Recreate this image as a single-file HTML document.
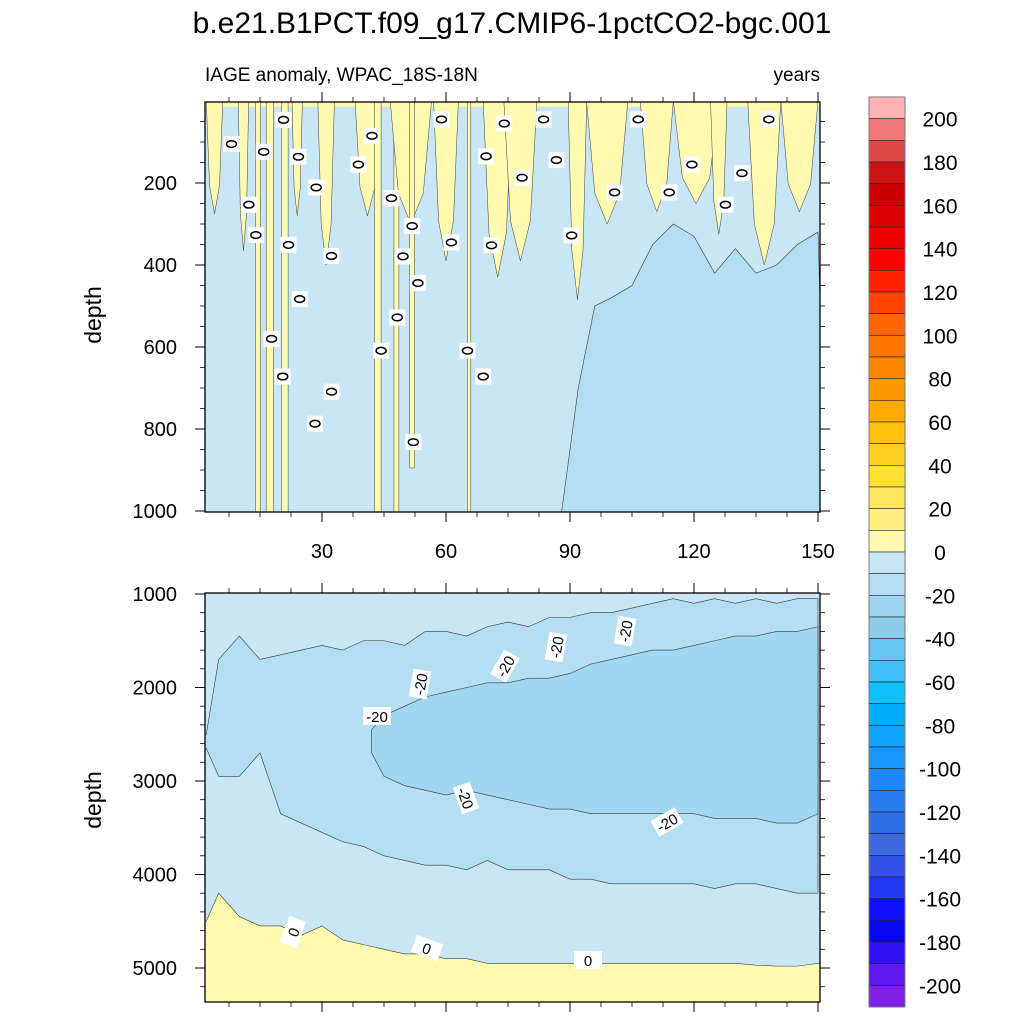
<!DOCTYPE html>
<html><head><meta charset="utf-8"><style>
html,body{margin:0;padding:0;background:#fff;}
svg{display:block;font-family:"Liberation Sans",sans-serif;}
</style></head><body>
<svg id="chart" width="1024" height="1024" viewBox="0 0 1024 1024" xmlns="http://www.w3.org/2000/svg">
<defs><clipPath id="ct"><rect x="205" y="102" width="615" height="410"/></clipPath><clipPath id="cbp"><rect x="205" y="593" width="615" height="409"/></clipPath></defs>
<text x="512" y="33" font-size="30" text-anchor="middle">b.e21.B1PCT.f09_g17.CMIP6-1pctCO2-bgc.001</text>
<text x="205" y="81" font-size="19">IAGE anomaly, WPAC_18S-18N</text>
<text x="820" y="81" font-size="19" text-anchor="end">years</text>
<text transform="translate(101,315) rotate(-90)" font-size="23" text-anchor="middle">depth</text>
<text transform="translate(101,800) rotate(-90)" font-size="23" text-anchor="middle">depth</text>
<g id="topPanel"></g><g id="botPanel"></g><g id="cbarGroup"></g>
</svg>
<script>
// ---- data ----
const yrs = [2,5,10,15,20,25,30,35,40,45,50,55,60,65,70,75,80,85,90,95,100,105,110,115,120,125,130,135,140,145,150];
const upper10 = [2500,1700,1450,1700,1650,1600,1550,1600,1500,1500,1550,1400,1400,1450,1350,1300,1350,1250,1250,1200,1200,1150,1100,1050,1100,1050,1100,1050,1100,1050,1050];
const lower10 = [2650,2950,2950,2700,3350,3450,3550,3650,3700,3800,3850,3900,3900,3950,3850,3950,3950,3950,4050,4050,4100,4100,4100,4100,4100,4150,4100,4100,4150,4200,4200];
const zeroLine = [4500,4200,4450,4550,4550,4650,4550,4700,4750,4800,4850,4850,4900,4900,4950,4950,4950,4950,4950,4950,4950,4950,4950,4950,4950,4950,4950,4970,4980,4980,4950];
const yrs20 = [42,45,50,55,60,65,70,75,80,85,90,95,100,105,110,115,120,125,130,135,140,145,150];
const top20 = [2450,2300,2200,2100,2050,2000,1950,1950,1900,1900,1850,1750,1700,1650,1600,1600,1550,1500,1450,1450,1400,1400,1350];
const bot20 = [2700,2950,3050,3100,3150,3100,3150,3200,3250,3300,3300,3350,3350,3350,3350,3350,3350,3400,3400,3400,3450,3450,3350];
const yrsDeep = [88,92,96,100,105,110,115,120,125,130,135,140,145,150];
const deepTop = [1000,700,500,480,450,350,300,330,420,360,420,400,350,320];
const streakYear = [4,11,14.5,17.4,21,24,31,41,43.5,48,51.5,51.8,60,65.6,72.5,78,91.8,99,111,120.5,126,137,145.5];
const streakWidth = [4,2.5,1.2,1.8,1.6,2.5,4,6,1.6,1.2,10,1.2,6,0.8,7,8,4.5,10,8,11,4,8,9];
const streakDepth = [275,365,1000,1000,1000,280,400,280,1000,1000,300,875,390,1000,430,390,485,300,270,250,325,400,270];
const streakFull = [0,0,1,1,1,0,0,0,1,1,0,1,0,1,0,0,0,0,0,0,0,0,0];
const zeroLabYear = [8.1,20.7,15.9,24.3,28.6,12.3,14,21.9,32.3,24.6,17.8,20.5,28.3,32.3,42.1,38.8,46.8,51.8,49.6,53.2,48.2,44.3,52.1,58.9,61.3,69.7,74.1,71,65.2,69,78.4,83.6,86.7,90.4,100.8,106.5,114,119.5,127.6,131.6,138.1];
const zeroLabDepth = [105,46,124,136,211,253,327,351,378,483,580,672,787,709,85,155,237,305,379,444,528,609,832,45,345,135,55,352,609,672,187,45,144,328,223,45,223,155,253,176,45];
const xTicks = [30,60,90,120,150];
const yTicksTop = [200,400,600,800,1000];
const yTicksBot = [1000,2000,3000,4000,5000];
const cbColors = ['#ffb3b3','#f07878','#e04848','#cc1414','#cc0000','#dd0000','#ee0000','#ff0000','#ff2200','#ff4400','#ff6600','#ff7700','#ff8800','#ff9900','#ffaa00','#ffc010','#ffd020','#ffe030','#ffe860','#fff080','#fffab0','#c8e6f5','#b4def2','#a0d6ef','#8ccbea','#66c6f2','#40c0f8','#10c0ff','#00b0ff','#10a4ff','#1896ff','#2088ff','#2a7af0','#3070e6','#4068e0','#3050e8','#2038f0','#1010ff','#0808f0','#3010f0','#6018f0','#8020e8'];
const cbLabels = [200,180,160,140,120,100,80,60,40,20,0,-20,-40,-60,-80,-100,-120,-140,-160,-180,-200];

// ---- scales ----
const X0=205,X1=820, T0=102,T1=512, B0=593,B1=1002;
const xS = y => 198 + y*4.1333;
const yT = d => 101 + d*0.41;
const yB = d => 594 + (d-1000)*0.0935;
const NS='http://www.w3.org/2000/svg';
function mk(tag,attrs,parent){const e=document.createElementNS(NS,tag);for(const k in attrs)e.setAttribute(k,attrs[k]);parent.appendChild(e);return e;}
const topG=document.getElementById('topPanel'), botG=document.getElementById('botPanel'), cbG=document.getElementById('cbarGroup');
const LC='#3a3a3a';

// ---- top panel ----
const tg=mk('g',{'clip-path':'url(#ct)'},topG);
let r=mk('rect',{x:X0,y:T0,width:X1-X0,height:T1-T0,fill:'#c8e6f5'},tg);


let pts=yrsDeep.map((y,i)=>xS(y)+','+yT(deepTop[i])).join(' ')+' '+xS(152)+','+yT(1010)+' '+xS(yrsDeep[0])+','+yT(1010);
let p=mk('polygon',{points:pts,fill:'#b4def2',stroke:LC,'stroke-width':0.6},tg);


r=mk('rect',{x:X0,y:T0,width:X1-X0,height:yT(14)-T0,fill:'#fffab0'},tg);


streakYear.forEach((c,i)=>{
  const w=streakWidth[i], d=streakDepth[i];
  let q;
  if(streakFull[i]) q=[[c-w/2,0],[c+w/2,0],[c+w/2,d+20],[c-w/2,d+20]];
  else q=[[c-w/2,0],[c+w/2,0],[c+w*0.3,d*0.75],[c,d],[c-w*0.3,d*0.75]];
  const s=mk('polygon',{points:q.map(a=>xS(a[0])+','+yT(a[1])).join(' '),fill:'#fffab0',stroke:LC,'stroke-width':0.5},tg);
  
  
});
zeroLabYear.forEach((y,i)=>{
  const cx=xS(y), cy=yT(zeroLabDepth[i]);
  const g=mk('g',{},tg);
  
  
  mk('rect',{x:cx-8,y:cy-8,width:16,height:16,fill:'#fff'},g);
  mk('ellipse',{cx:cx,cy:cy,rx:5,ry:3.3,fill:'none',stroke:'#000','stroke-width':1.5},g);
});

// ---- bottom panel ----
const bg=mk('g',{'clip-path':'url(#cbp)'},botG);
r=mk('rect',{x:X0,y:B0,width:X1-X0,height:B1-B0,fill:'#c8e6f5'},bg);


function band(xs,a,b,fill,name){
  const up=xs.map((y,i)=>xS(y)+','+yB(a[i]));
  const dn=xs.map((y,i)=>xS(y)+','+yB(b[i])).reverse();
  const e=mk('polygon',{points:up.concat(dn).join(' '),fill:fill,stroke:LC,'stroke-width':0.6},bg);
  
  
}
band([0].concat(yrs),[upper10[0]].concat(upper10),[lower10[0]].concat(lower10),'#b4def2','contour-band-minus10');
band(yrs20,top20,bot20,'#a0d6ef','contour-band-minus20');
band([0].concat(yrs,[152]),[zeroLine[0]].concat(zeroLine,[zeroLine[zeroLine.length-1]]),new Array(yrs.length+2).fill(5500),'#fffab0','positive-anomaly-deep');
function lab(x,y,rot,t,name){
  const g=mk('g',{transform:`translate(${x},${y}) rotate(${rot})`},bg);
  
  
  mk('rect',{x:-14,y:-9,width:28,height:18,fill:'#fff'},g);
  const t1=mk('text',{x:0,y:6,'font-size':15,'text-anchor':'middle'},g);t1.textContent=t;
}
lab(377,716,0,'-20','contour-label-m20');lab(420,684,-80,'-20','contour-label-m20');lab(505,666,-60,'-20','contour-label-m20');
lab(556,647,-80,'-20','contour-label-m20');lab(625,631,-80,'-20','contour-label-m20');lab(466,798,70,'-20','contour-label-m20');lab(667,822,-30,'-20','contour-label-m20');
lab(293,932,-70,'0','contour-label-0');lab(427,948,20,'0','contour-label-0');lab(588,960,0,'0','contour-label-0');

// ---- axes ----
function axes(g,y0,y1,ticks,yf,minor,name){
  const fr=mk('rect',{x:X0,y:y0,width:X1-X0,height:y1-y0,fill:'none',stroke:'#000','stroke-width':1.3},g);
  
  
  minor.forEach(d=>{const yy=yf(d);mk('line',{x1:X0-5,x2:X0,y1:yy,y2:yy,stroke:'#000','stroke-width':0.8},g);mk('line',{x1:X1,x2:X1+5,y1:yy,y2:yy,stroke:'#000','stroke-width':0.8},g);});
  ticks.forEach(d=>{const yy=yf(d);mk('line',{x1:X0-10,x2:X0,y1:yy,y2:yy,stroke:'#000','stroke-width':1},g);mk('line',{x1:X1,x2:X1+10,y1:yy,y2:yy,stroke:'#000','stroke-width':1},g);
    const t=mk('text',{x:X0-28,y:yy+7,'font-size':20,'text-anchor':'end'},g);t.textContent=d;
    
    });
  [7.5,15,22.5,37.5,45,52.5,67.5,75,82.5,97.5,105,112.5,127.5,135,142.5].forEach(v=>{const xx=xS(v);mk('line',{x1:xx,x2:xx,y1:y0-5,y2:y0,stroke:'#000','stroke-width':0.8},g);mk('line',{x1:xx,x2:xx,y1:y1,y2:y1+5,stroke:'#000','stroke-width':0.8},g);});
  xTicks.forEach(v=>{const xx=xS(v);mk('line',{x1:xx,x2:xx,y1:y0-10,y2:y0,stroke:'#000','stroke-width':1},g);mk('line',{x1:xx,x2:xx,y1:y1,y2:y1+10,stroke:'#000','stroke-width':1},g);});
}
const mt=[];for(let d=50;d<=1000;d+=50)mt.push(d);
const mb=[];for(let d=1000;d<=5300;d+=200)mb.push(d);
axes(topG,T0,T1,yTicksTop,yT,mt,'top-panel');
axes(botG,B0,B1,yTicksBot,yB,mb,'bottom-panel');
xTicks.forEach(v=>{const t=mk('text',{x:xS(v),y:558,'font-size':20,'text-anchor':'middle'},topG);t.textContent=v;
  
  });

// ---- colorbar ----
const cbTop=97, cbH=910/cbColors.length;
cbColors.forEach((c,i)=>{
  const b=mk('rect',{x:869,y:cbTop+i*cbH,width:36,height:cbH,fill:c,stroke:'#222','stroke-width':0.6},cbG);
  
  
});
mk('rect',{x:869,y:cbTop,width:36,height:910,fill:'none',stroke:'#777','stroke-width':1},cbG);
cbLabels.forEach((v,i)=>{
  const t=mk('text',{x:940,y:cbTop+(1+2*i)*cbH+8,'font-size':21,'text-anchor':'middle'},cbG);t.textContent=v;
  
  
});
</script>
</body></html>
